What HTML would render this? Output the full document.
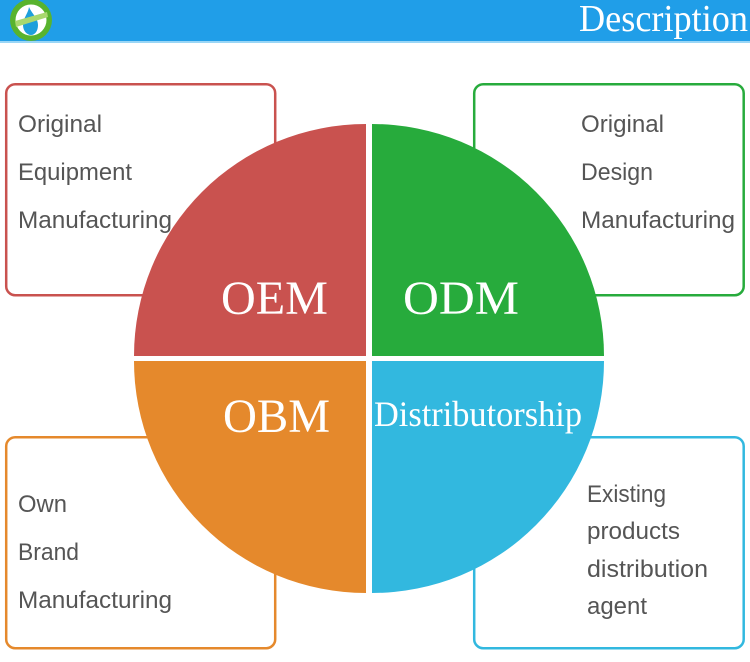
<!DOCTYPE html>
<html><head><meta charset="utf-8"><style>
html,body{margin:0;padding:0;background:#fff}
svg{display:block}
.t{font-family:"Liberation Sans",sans-serif;font-size:24px;fill:#555}
.s{font-family:"Liberation Serif",serif;fill:#fff}
</style></head><body>
<svg width="750" height="662" viewBox="0 0 750 662" xmlns="http://www.w3.org/2000/svg">
<rect width="750" height="662" fill="#fff"/>
<rect x="0" y="0" width="750" height="41" fill="#209ee8"/>
<rect x="0" y="41" width="750" height="2" fill="#9ad6f6"/>
<circle cx="31" cy="20" r="21" fill="#58b32e"/>
<circle cx="31" cy="20" r="15.5" fill="#fff"/>
<path d="M29 7 C28 14 23 18 23 25 C23 31 27 35 31 35 C35 35 38 31 38 25 C38 18 32 14 29 7Z" fill="#1e9fdc"/>
<path d="M15 21 L47 12 L48 17 L16 27Z" fill="#a9d86e"/>
<text x="579" y="31" class="s" font-size="38" textLength="169" lengthAdjust="spacingAndGlyphs">Description</text>

<rect x="6.2" y="84.2" width="269" height="211" rx="9" fill="#fff" stroke="#c9524f" stroke-width="2.5"/>
<rect x="474.2" y="84.2" width="269.5" height="211" rx="9" fill="#fff" stroke="#27ab3c" stroke-width="2.5"/>
<rect x="6.2" y="437.2" width="269" height="211" rx="9" fill="#fff" stroke="#e5892c" stroke-width="2.5"/>
<rect x="474.2" y="437.2" width="269.5" height="211" rx="9" fill="#fff" stroke="#32b8df" stroke-width="2.5"/>

<path d="M366 124 A232 232 0 0 0 134 356 L366 356Z" fill="#c9524f"/>
<path d="M372 124 A232 232 0 0 1 604 356 L372 356Z" fill="#27ab3c"/>
<path d="M366 361 L134 361 A232 232 0 0 0 366 593Z" fill="#e5892c"/>
<path d="M372 361 L604 361 A232 232 0 0 1 372 593Z" fill="#32b8df"/>

<text x="18" y="132" class="t" textLength="84" lengthAdjust="spacingAndGlyphs">Original</text>
<text x="18" y="180" class="t" textLength="114" lengthAdjust="spacingAndGlyphs">Equipment</text>
<text x="18" y="228" class="t" textLength="154" lengthAdjust="spacingAndGlyphs">Manufacturing</text>
<text x="581" y="132" class="t" textLength="83" lengthAdjust="spacingAndGlyphs">Original</text>
<text x="581" y="180" class="t" textLength="72" lengthAdjust="spacingAndGlyphs">Design</text>
<text x="581" y="228" class="t" textLength="154" lengthAdjust="spacingAndGlyphs">Manufacturing</text>
<text x="18" y="512" class="t" textLength="49" lengthAdjust="spacingAndGlyphs">Own</text>
<text x="18" y="560" class="t" textLength="61" lengthAdjust="spacingAndGlyphs">Brand</text>
<text x="18" y="608" class="t" textLength="154" lengthAdjust="spacingAndGlyphs">Manufacturing</text>
<text x="587" y="502" class="t" textLength="79" lengthAdjust="spacingAndGlyphs">Existing</text>
<text x="587" y="539" class="t" textLength="93" lengthAdjust="spacingAndGlyphs">products</text>
<text x="587" y="577" class="t" textLength="121" lengthAdjust="spacingAndGlyphs">distribution</text>
<text x="587" y="614" class="t" textLength="60" lengthAdjust="spacingAndGlyphs">agent</text>

<text x="221" y="314" class="s" font-size="48" textLength="107" lengthAdjust="spacingAndGlyphs">OEM</text>
<text x="403" y="314" class="s" font-size="48" textLength="116" lengthAdjust="spacingAndGlyphs">ODM</text>
<text x="223" y="432" class="s" font-size="48" textLength="107" lengthAdjust="spacingAndGlyphs">OBM</text>
<text x="374" y="426" class="s" font-size="36" textLength="208" lengthAdjust="spacingAndGlyphs">Distributorship</text>
</svg>
</body></html>
